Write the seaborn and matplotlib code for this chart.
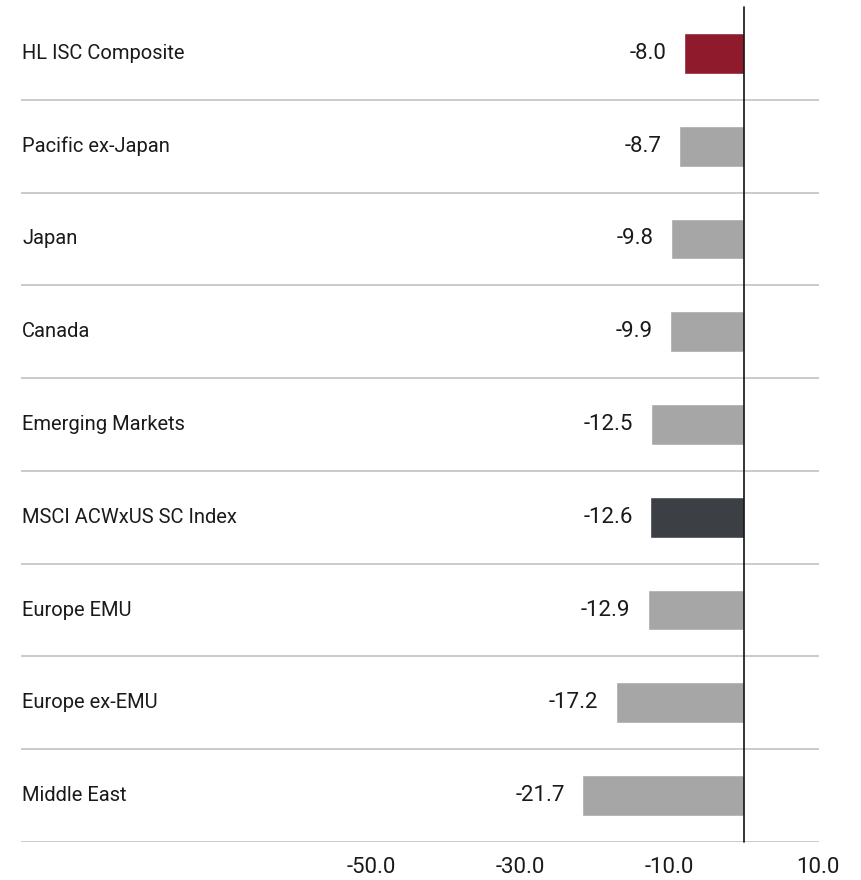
import matplotlib
matplotlib.use("Agg")
import matplotlib.pyplot as plt
import seaborn as sns
import pandas as pd

categories = ["HL ISC Composite", "Pacific ex-Japan", "Japan", "Canada",
              "Emerging Markets", "MSCI ACWxUS SC Index", "Europe EMU",
              "Europe ex-EMU", "Middle East"]
values = [-8.0, -8.7, -9.8, -9.9, -12.5, -12.6, -12.9, -17.2, -21.7]
bar_colors = ["#8E1A2C", "#A6A6A6", "#A6A6A6", "#A6A6A6", "#A6A6A6",
              "#3C3F44", "#A6A6A6", "#A6A6A6", "#A6A6A6"]
tick_values = [-50, -30, -10, 10]
tick_labels = ["-50.0", "-30.0", "-10.0", "10.0"]

sns.set_theme(style="white")
plt.rcParams["font.family"] = ["Roboto", "DejaVu Sans"]

df = pd.DataFrame({"category": categories, "value": values})

fig = plt.figure(figsize=(8.62, 8.80), dpi=100)
ax = fig.add_axes([21 / 862, 38 / 880, (819 - 21) / 862, (842 - 7) / 880])

sns.barplot(data=df, x="value", y="category", hue="category",
            palette=bar_colors, orient="h", width=0.44, legend=False,
            saturation=1, ax=ax)

ax.set_xlim(-97, 10.1)
ax.set_ylim(len(categories) - 0.5, -0.5)

# row separators
for i in range(len(categories)):
    ax.axhline(i + 0.5, color="#C6C6C6", lw=1.3, zorder=0)

# zero line
ax.axvline(0, color="#111111", lw=1.2, zorder=3, clip_on=False)

# category labels inside axes
for i, cat in enumerate(categories):
    ax.text(0.0015, i, cat, transform=ax.get_yaxis_transform(),
            ha="left", va="center", fontsize=14.5, color="#1a1a1a")

# value labels
for i, v in enumerate(values):
    ax.text(v - 2.3, i, f"{v:.1f}", ha="right", va="center",
            fontsize=16, color="#1a1a1a")

ax.set_yticks([])
ax.set_ylabel("")
ax.set_xlabel("")
ax.set_xticks(tick_values)
ax.set_xticklabels(tick_labels, fontsize=16, color="#1a1a1a")
ax.tick_params(axis="x", length=0, pad=11)
for s in ax.spines.values():
    s.set_visible(False)

fig.savefig("out.png", dpi=100)
